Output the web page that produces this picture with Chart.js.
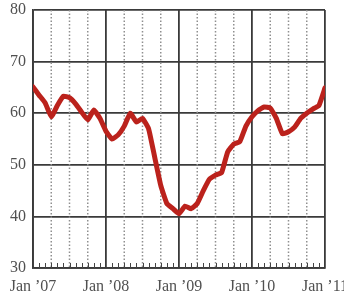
<!DOCTYPE html>
<html>
<head>
<meta charset="utf-8">
<script src="https://cdn.jsdelivr.net/npm/chart.js@4"></script>
<style>
  body { margin: 0; background: #fff; }
</style>
</head>
<body>
<canvas id="myChart" width="344" height="300"></canvas>
<script>
// monthly index, Jan '07 = 0 ... Jan '11 = 48
const yearLabels = ["Jan ’07", "Jan ’08", "Jan ’09", "Jan ’10", "Jan ’11"];
const yTicks = [30, 40, 50, 60, 70, 80];
const values = [
  65.1, 63.5, 62, 59.3, 61.5, 63.3, 63, 61.8, 60.2, 58.7, 60.6, 59,
  56.5, 55, 55.8, 57.5, 60, 58.3, 59, 57, 51.5, 46, 42.5, 41.5,
  40.5, 42, 41.5, 42.5, 45, 47.2, 48, 48.5, 52.5, 54, 54.5, 57.5,
  59.3, 60.5, 61.2, 61, 59, 56, 56.4, 57.3, 59, 60, 60.8, 61.5,
  64.9
];

const points = values.map((v, i) => ({x: i, y: v}));
const font = {family: "'Liberation Serif', serif", size: 16};

// dotted quarter lines and monthly ticks along the bottom
const quarterGrid = {
  id: 'quarterGrid',
  beforeDatasetsDraw(chart) {
    const {ctx, chartArea: a, scales: {x}} = chart;
    ctx.save();
    ctx.strokeStyle = '#8f8f8f';
    ctx.lineWidth = 1.5;
    ctx.setLineDash([1.5, 2]);
    for (let m = 3; m < 48; m += 3) {
      if (m % 12 === 0) continue;
      const px = x.getPixelForValue(m);
      ctx.beginPath();
      ctx.moveTo(px, a.top);
      ctx.lineTo(px, a.bottom);
      ctx.stroke();
    }
    ctx.setLineDash([]);
    ctx.strokeStyle = '#444';
    ctx.lineWidth = 1;
    for (let m = 1; m < 48; m++) {
      if (m % 12 === 0) continue;
      const px = Math.round(x.getPixelForValue(m)) + 0.5;
      ctx.beginPath();
      ctx.moveTo(px, a.bottom);
      ctx.lineTo(px, a.bottom - 5);
      ctx.stroke();
    }
    ctx.restore();
  }
};

const config = {
  type: 'line',
  data: {
    datasets: [{
      data: points,
      borderColor: '#bb221c',
      borderWidth: 5,
      pointRadius: 0,
      tension: 0.12,
      borderJoinStyle: 'round',
      borderCapStyle: 'round',
      fill: false
    }]
  },
  options: {
    responsive: false,
    animation: false,
    layout: {padding: {top: 10, right: 19, left: 0, bottom: 0}},
    plugins: {legend: {display: false}, tooltip: {enabled: false}},
    scales: {
      x: {
        type: 'linear',
        min: 0,
        max: 48,
        ticks: {
          stepSize: 12,
          padding: 9,
          color: '#505050',
          font: font,
          maxRotation: 0,
          callback: v => yearLabels[v / 12]
        },
        grid: {color: '#3a3a3a', lineWidth: 1.8, drawTicks: false},
        border: {color: '#3a3a3a', width: 1.8},
        afterFit: s => { s.height = 32; s.paddingLeft = 0; s.paddingRight = 0; }
      },
      y: {
        min: yTicks[0],
        max: yTicks[yTicks.length - 1],
        ticks: {stepSize: 10, padding: 7, color: '#505050', font: font},
        grid: {color: '#3a3a3a', lineWidth: 1.8, drawTicks: false},
        border: {color: '#3a3a3a', width: 1.8},
        afterFit: s => { s.width = 33; s.paddingTop = 0; s.paddingBottom = 0; }
      }
    }
  },
  plugins: [quarterGrid]
};

new Chart(document.getElementById('myChart').getContext('2d'), config);
</script>
</body>
</html>
